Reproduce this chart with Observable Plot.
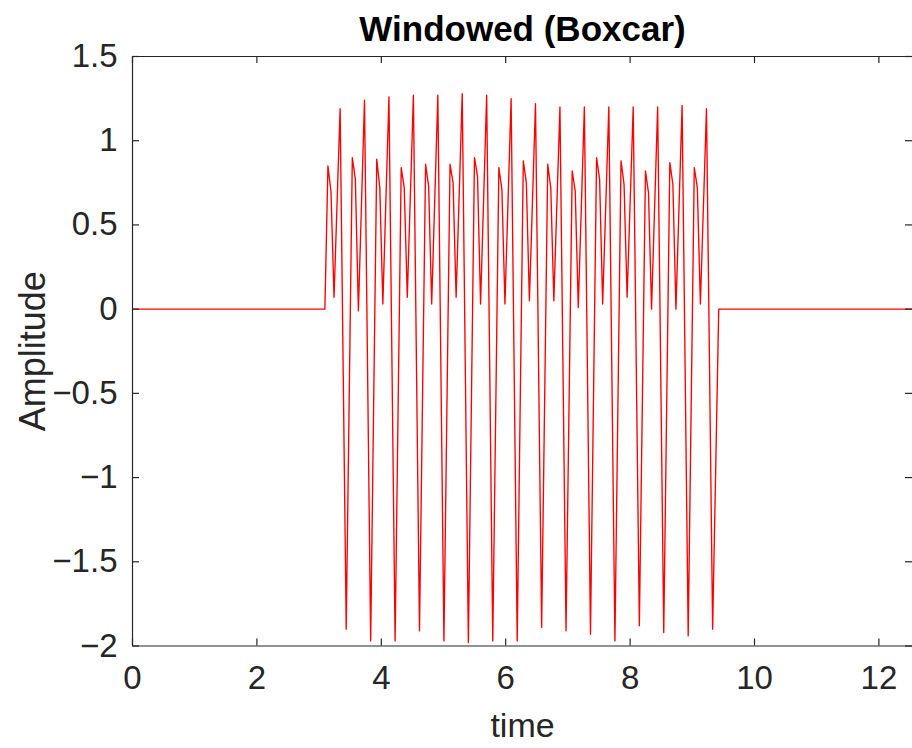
<!DOCTYPE html>
<html>
<head>
<meta charset="utf-8">
<script src="https://cdn.jsdelivr.net/npm/d3@7"></script>
<script src="https://cdn.jsdelivr.net/npm/@observablehq/plot@0.6"></script>
<style>
  html, body { margin: 0; padding: 0; background: #ffffff; }
  #chart svg { display: block; }
</style>
</head>
<body>
<div id="chart"></div>
<script>
// ---- Data ----
const titleText = "Windowed (Boxcar)";
const xLabel = "time";
const yLabel = "Amplitude";

const xTicks = [0, 2, 4, 6, 8, 10, 12];
const xTickLabels = ["0", "2", "4", "6", "8", "10", "12"];
const yTicks = [-2, -1.5, -1, -0.5, 0, 0.5, 1, 1.5];
const yTickLabels = ["−2", "−1.5", "−1", "−0.5", "0", "0.5", "1", "1.5"];
const xDomain = [0, 12.566];
const yDomain = [-2, 1.5];

const time = [
  0, 3.093,
  3.142, 3.191, 3.240, 3.338, 3.436,
  3.534, 3.583, 3.632, 3.730, 3.829,
  3.927, 3.976, 4.025, 4.123, 4.222,
  4.320, 4.369, 4.418, 4.516, 4.614,
  4.712, 4.761, 4.810, 4.909, 5.007,
  5.105, 5.154, 5.203, 5.301, 5.400,
  5.498, 5.547, 5.596, 5.694, 5.792,
  5.890, 5.939, 5.988, 6.087, 6.185,
  6.283, 6.332, 6.381, 6.479, 6.578,
  6.676, 6.725, 6.774, 6.872, 6.970,
  7.069, 7.118, 7.167, 7.265, 7.363,
  7.461, 7.510, 7.559, 7.658, 7.756,
  7.854, 7.903, 7.952, 8.050, 8.149,
  8.247, 8.296, 8.345, 8.443, 8.541,
  8.639, 8.688, 8.737, 8.836, 8.934,
  9.032, 9.081, 9.130, 9.228, 9.327,
  9.425, 12.566
];

const amplitude = [
  0, 0,
  0.85, 0.70, 0.07, 1.19, -1.90,
  0.90, 0.77, -0.01, 1.24, -1.97,
  0.89, 0.72, 0.03, 1.26, -1.97,
  0.84, 0.72, 0.07, 1.27, -1.91,
  0.86, 0.73, 0.03, 1.27, -1.97,
  0.86, 0.75, 0.07, 1.28, -1.98,
  0.90, 0.79, 0.03, 1.27, -1.97,
  0.84, 0.71, 0.03, 1.25, -1.97,
  0.88, 0.75, 0.05, 1.22, -1.89,
  0.86, 0.72, 0.05, 1.20, -1.91,
  0.82, 0.70, 0.01, 1.20, -1.93,
  0.90, 0.77, 0.03, 1.20, -1.97,
  0.88, 0.74, 0.07, 1.20, -1.88,
  0.82, 0.69, 0.00, 1.20, -1.92,
  0.87, 0.74, 0.00, 1.21, -1.94,
  0.84, 0.72, 0.03, 1.19, -1.90,
  0, 0
];

const data = time.map((t, i) => ({t, a: amplitude[i]}));

// ---- Layout ----
const W = 912, H = 748;
const mL = 132, mT = 56, mB = 102.5, mR = 0;
const frameH = H - mT - mB;
const frameW = W - mL - mR;
const tickLen = 7;
const axisColor = "#262626";

const chart = Plot.plot({
  width: W,
  height: H,
  marginLeft: mL,
  marginRight: mR,
  marginTop: mT,
  marginBottom: mB,
  x: {domain: xDomain, range: [mL, 913.6]},
  y: {domain: yDomain, range: [H - mB, mT]},
  style: {fontFamily: "'Liberation Sans', Arial, Helvetica, sans-serif", background: "#ffffff", color: axisColor},
  marks: [
    Plot.line(data, {x: "t", y: "a", stroke: "#ff0000", strokeWidth: 1.35}),
    // box edges
    Plot.ruleY([yDomain[0], yDomain[1]], {stroke: axisColor, strokeWidth: 1.2}),
    Plot.ruleX([xDomain[0]], {stroke: axisColor, strokeWidth: 1.2}),
    // inward ticks: bottom, top, left, right
    Plot.tickX(xTicks, {x: d => d, insetTop: frameH - tickLen, stroke: axisColor, strokeWidth: 1.2}),
    Plot.tickX(xTicks, {x: d => d, insetBottom: frameH - tickLen, stroke: axisColor, strokeWidth: 1.2}),
    Plot.tickY(yTicks, {y: d => d, insetRight: frameW - tickLen, stroke: axisColor, strokeWidth: 1.2}),
    Plot.tickY(yTicks, {y: d => d, insetLeft: frameW - tickLen, stroke: axisColor, strokeWidth: 1.2}),
    // tick labels
    Plot.axisX({
      ticks: xTicks, tickSize: 0, tickPadding: 20, fontSize: 33, label: null,
      tickFormat: d => xTickLabels[xTicks.indexOf(d)], fill: axisColor
    }),
    Plot.axisY({
      ticks: yTicks, tickSize: 0, tickPadding: 15, fontSize: 33, label: null,
      tickFormat: d => yTickLabels[yTicks.indexOf(d)], fill: axisColor
    }),
    // title and axis labels
    Plot.text([titleText], {frameAnchor: "top", dy: -27, fontSize: 35, fontWeight: "bold", fill: "#000000", lineAnchor: "middle"}),
    Plot.text([xLabel], {frameAnchor: "bottom", dy: 80, fontSize: 34, fill: axisColor, lineAnchor: "middle", textAnchor: "middle"}),
    Plot.text([yLabel], {frameAnchor: "left", dx: -99, rotate: -90, fontSize: 36, fill: axisColor, lineAnchor: "middle", textAnchor: "middle"})
  ]
});

document.getElementById("chart").appendChild(chart);
</script>
</body>
</html>
